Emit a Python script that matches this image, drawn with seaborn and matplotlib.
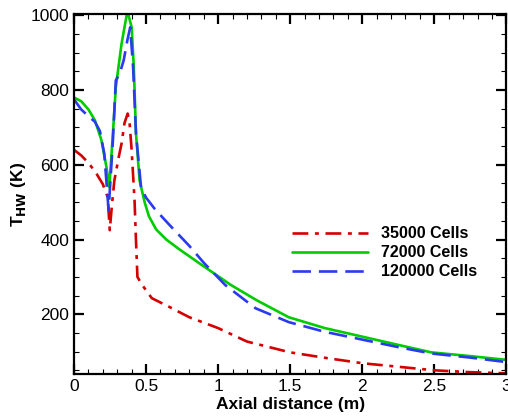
import matplotlib
matplotlib.use("Agg")
import matplotlib.pyplot as plt
import seaborn as sns
import pandas as pd
from matplotlib.ticker import MultipleLocator

# 35000 Cells
x_35k = [0.0, 0.05, 0.10, 0.15, 0.20, 0.234, 0.248, 0.265, 0.28, 0.31, 0.33, 0.35, 0.372, 0.385, 0.40, 0.42, 0.43, 0.44, 0.47, 0.54, 0.68, 0.80, 1.0, 1.2, 1.5, 1.75, 2.0, 2.5, 2.75, 3.0]
y_35k = [640, 625, 605, 580, 548, 513, 425, 500, 558, 620, 657, 711, 737, 715, 639, 505, 398, 300, 280, 243, 216, 192, 163, 127, 98, 83, 69, 50, 45, 42]

# 72000 Cells
x_72k = [0.0, 0.05, 0.10, 0.145, 0.19, 0.225, 0.245, 0.27, 0.29, 0.33, 0.365, 0.375, 0.40, 0.415, 0.43, 0.455, 0.49, 0.52, 0.57, 0.64, 0.73, 0.89, 1.09, 1.27, 1.49, 1.74, 1.99, 2.25, 2.48, 2.75, 3.0]
y_72k = [780, 770, 748, 719, 666, 594, 540, 684, 807, 924, 1000, 1005, 968, 861, 684, 558, 500, 462, 427, 400, 374, 331, 278, 237, 192, 163, 141, 118, 98, 88, 78]

# 120000 Cells
x_120k = [0.0, 0.05, 0.10, 0.145, 0.18, 0.21, 0.24, 0.27, 0.29, 0.317, 0.345, 0.37, 0.39, 0.41, 0.43, 0.465, 0.50, 0.56, 0.66, 0.80, 0.90, 1.05, 1.26, 1.49, 1.74, 1.99, 2.25, 2.48, 2.75, 3.0]
y_120k = [775, 748, 730, 715, 690, 630, 478, 666, 826, 844, 880, 933, 968, 861, 684, 540, 512, 482, 440, 383, 338, 278, 216, 179, 153, 133, 112, 95, 84, 72]

labels = ["35000 Cells", "72000 Cells", "120000 Cells"]
x_ticks = [0, 0.5, 1, 1.5, 2, 2.5, 3]
x_tick_labels = ["0", "0.5", "1", "1.5", "2", "2.5", "3"]
y_ticks = [200, 400, 600, 800, 1000]

sns.set_theme(style="ticks")
plt.rcParams["font.family"] = ["Liberation Sans", "DejaVu Sans"]
for k in ["text.color", "axes.labelcolor", "xtick.color", "ytick.color", "axes.edgecolor"]:
    plt.rcParams[k] = "black"

fig = plt.figure(figsize=(5.08, 4.17), dpi=100)
ax = fig.add_axes([0.1457, 0.103, 0.851, 0.863])

df35 = pd.DataFrame({"x": x_35k, "y": y_35k})
df72 = pd.DataFrame({"x": x_72k, "y": y_72k})
df120 = pd.DataFrame({"x": x_120k, "y": y_120k})

sns.lineplot(data=df35, x="x", y="y", ax=ax, color="#d40000", lw=1.9,
             linestyle=(0, (6, 2.5, 1.5, 2.5)), label=labels[0], sort=False)
sns.lineplot(data=df72, x="x", y="y", ax=ax, color="#00cc00", lw=1.9,
             linestyle="-", label=labels[1], sort=False)
sns.lineplot(data=df120, x="x", y="y", ax=ax, color="#2a3aee", lw=1.9,
             linestyle=(0, (7, 3)), label=labels[2], sort=False)

ax.set_xlim(0, 3)
ax.set_ylim(40, 1003)
ax.set_xticks(x_ticks)
ax.set_xticklabels(x_tick_labels)
ax.set_yticks(y_ticks)
ax.xaxis.set_minor_locator(MultipleLocator(0.1))
ax.yaxis.set_minor_locator(MultipleLocator(50))
ax.tick_params(which="both", direction="in", top=True, right=True, labelsize=12.5, colors="black")
ax.tick_params(which="major", length=7, width=1.6)
ax.tick_params(which="minor", length=3.5, width=0.8)
for s in ax.spines.values():
    s.set_linewidth(1.6)
    s.set_color("black")

ax.set_xlabel("Axial distance (m)", fontsize=12.5, fontweight="bold", labelpad=2)
ax.set_ylabel(r"T$_{\mathbf{HW}}$ (K)", fontsize=12.5, fontweight="bold", labelpad=2)

leg = ax.legend(loc="upper left", bbox_to_anchor=(0.47, 0.45), frameon=False,
                prop={"weight": "bold", "size": 11.5}, handlelength=4.8,
                handletextpad=0.8, labelspacing=0.25)
for t in leg.get_texts():
    t.set_color("black")

fig.savefig("out.png", dpi=100)
